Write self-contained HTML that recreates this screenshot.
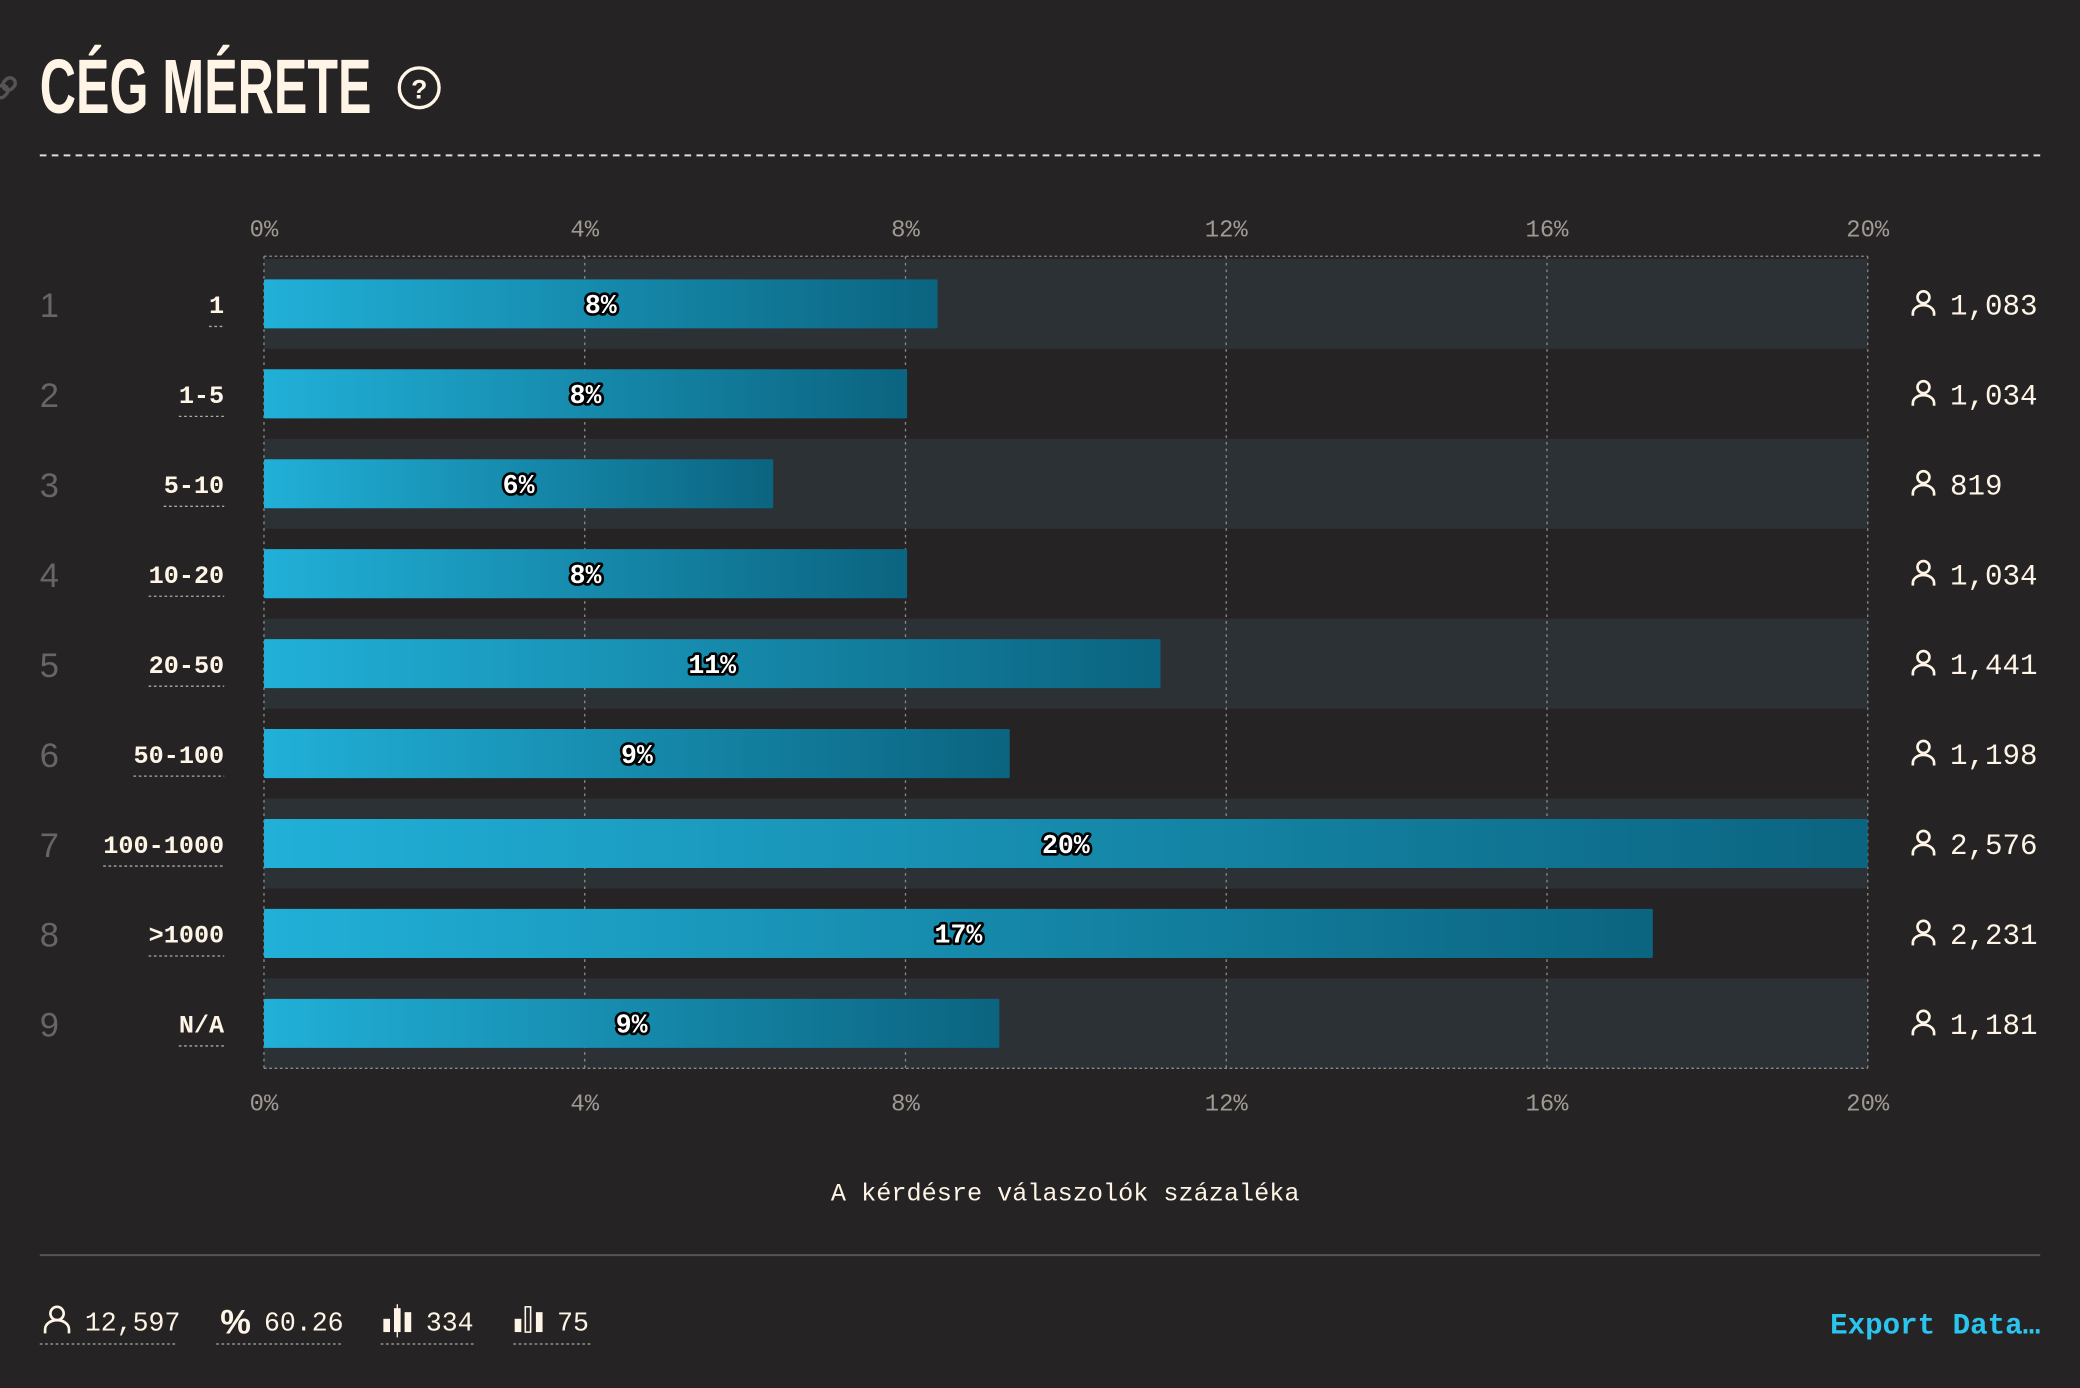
<!DOCTYPE html>
<html><head><meta charset="utf-8">
<style>
html,body{margin:0;padding:0;background:#262324;}
body{width:2080px;height:1388px;overflow:hidden;}
svg{display:block;}
.mono{font-family:"Liberation Mono","DejaVu Sans Mono",monospace;}
</style></head>
<body>
<svg id="chart" width="2080" height="1388" viewBox="0 0 1568 1046" xmlns="http://www.w3.org/2000/svg">
<defs>
<linearGradient id="bg" x1="0" x2="1" y1="0" y2="0">
<stop offset="0" stop-color="#21b0d8"/><stop offset="1" stop-color="#0b6480"/>
</linearGradient>
</defs>
<rect width="1568" height="1046" fill="#262324"/>
<g transform="translate(4,66) rotate(-45)" fill="none" stroke="#555" stroke-width="2.5"><rect x="-9" y="-4" width="10" height="8" rx="4"/><rect x="-1" y="-4" width="10" height="8" rx="4"/></g>
<text x="30" y="85" fill="#fff5e6" font-family="'Liberation Sans Narrow','Liberation Sans',sans-serif" font-weight="bold" font-size="58" textLength="250" lengthAdjust="spacingAndGlyphs">CÉG MÉRETE</text>
<g><circle cx="316" cy="66" r="15" fill="none" stroke="#fff5e6" stroke-width="2.5"/><text x="316" y="74" text-anchor="middle" fill="#fff5e6" font-family="Liberation Sans" font-weight="bold" font-size="20">?</text></g>
<line x1="30" x2="1538" y1="117" y2="117" stroke="#ddd" stroke-width="1.5" stroke-dasharray="5,4"/>
<g id="plot"></g>
<text class="mono" x="803" y="905" text-anchor="middle" fill="#fff5e6" font-size="19">A kérdésre válaszolók százaléka</text>
<line x1="30" x2="1538" y1="946" y2="946" stroke="#555" stroke-width="1.5"/>
<g class="mono" fill="#fff5e6" font-size="20">
 <g><circle cx="43" cy="990" r="5" fill="none" stroke="#fff5e6" stroke-width="2"/><path d="M34 1005 v-3 a9 7 0 0 1 18 0 v3" fill="none" stroke="#fff5e6" stroke-width="2"/><text x="64" y="1003">12,597</text><line x1="30" x2="134" y1="1013" y2="1013" stroke="#aaa" stroke-dasharray="2,2"/></g>
 <g><text x="166" y="1005" font-size="26" font-family="Liberation Sans" font-weight="bold">%</text><text x="199" y="1003">60.26</text><line x1="163" x2="257" y1="1013" y2="1013" stroke="#aaa" stroke-dasharray="2,2"/></g>
 <g><rect x="289" y="994" width="5" height="10"/><rect x="297" y="986" width="5" height="18"/><line x1="299.5" x2="299.5" y1="983" y2="1008" stroke="#fff5e6"/><rect x="305" y="989" width="5" height="15"/><text x="321" y="1003">334</text><line x1="287" x2="357" y1="1013" y2="1013" stroke="#aaa" stroke-dasharray="2,2"/></g>
 <g><rect x="388" y="994" width="5" height="10"/><rect x="396" y="985" width="4" height="19" fill="none" stroke="#fff5e6" stroke-width="1.2"/><rect x="404" y="989" width="5" height="15"/><text x="420" y="1003">75</text><line x1="387" x2="445" y1="1013" y2="1013" stroke="#aaa" stroke-dasharray="2,2"/></g>
</g>
<text class="mono" x="1538" y="1005" text-anchor="end" fill="#2bc4ee" font-weight="bold" font-size="22">Export Data…</text>
</svg>
<script>
const categories = ["1","1-5","5-10","10-20","20-50","50-100","100-1000",">1000","N/A"];
const values = [8.40, 8.02, 6.35, 8.02, 11.18, 9.30, 20.0, 17.32, 9.17];
const labels = ["8%","8%","6%","8%","11%","9%","20%","17%","9%"];
const counts = ["1,083","1,034","819","1,034","1,441","1,198","2,576","2,231","1,181"];
const ticks = [0,4,8,12,16,20];
const tickLabels = ["0%","4%","8%","12%","16%","20%"];

const NS="http://www.w3.org/2000/svg";
const g=document.getElementById('plot');
const X0=199,X1=1408,XMAX=20,TOP=195,STEP=67.8;
const x=v=>X0+(v/XMAX)*(X1-X0);
const y=i=>TOP+i*STEP;
function mk(t,a,p){const e=document.createElementNS(NS,t);for(const k in a)e.setAttribute(k,a[k]);(p||g).appendChild(e);return e;}
const bottom=y(categories.length);
categories.forEach((c,i)=>{
  if(i%2===0){const b=mk('rect',{x:X0,y:y(i),width:X1-X0,height:STEP,fill:'#2b3135'});
  
  }
});
ticks.forEach((t,j)=>{
  const l=mk('line',{x1:x(t),x2:x(t),y1:TOP-2,y2:bottom+2,stroke:'#8a8a8a','stroke-dasharray':'2,3'});
  
  
  [172,831].forEach((ty,k)=>{
    const tx=mk('text',{x:x(t),y:ty+6,'text-anchor':'middle',fill:'#a09a93','font-size':18,class:'mono'});
    tx.textContent=tickLabels[j];
    
    
  });
});
[TOP-2,bottom].forEach(yy=>{const l=mk('line',{x1:X0,x2:X1,y1:yy,y2:yy,stroke:'#8a8a8a','stroke-dasharray':'2,2'});

});
categories.forEach((c,i)=>{
  const cy=y(i)+STEP/2;
  const n=mk('text',{x:30,y:cy+10,fill:'#666','font-size':26,'font-family':'Liberation Sans'});n.textContent=i+1;
  
  
  const lab=mk('text',{x:169,y:cy+7,'text-anchor':'end',fill:'#fff5e6','font-size':19,'font-weight':'bold',class:'mono'});lab.textContent=c;
  
  
  const w=c.length*11.4;
  const ul=mk('line',{x1:169-w,x2:169,y1:cy+17,y2:cy+17,stroke:'#aaa','stroke-dasharray':'2,2'});
  
  
  const bar=mk('rect',{x:X0,y:cy-18.5,width:x(values[i])-X0,height:37,fill:'url(#bg)',rx:1});
  
  
  const vl=mk('text',{x:(X0+x(values[i]))/2,y:cy+7,'text-anchor':'middle',fill:'#fff','font-size':20,'font-weight':'bold',class:'mono',stroke:'#000','stroke-width':4,'paint-order':'stroke','stroke-linejoin':'round'});vl.textContent=labels[i];
  
  
  const ic=mk('g',{transform:`translate(1450,${cy})`});
  
  
  mk('circle',{cx:0,cy:-5,r:4.5,fill:'none',stroke:'#fff5e6','stroke-width':2},ic);
  mk('path',{d:'M-8 9 v-2 a8 6 0 0 1 16 0 v2',fill:'none',stroke:'#fff5e6','stroke-width':2},ic);
  const ct=mk('text',{x:1470,y:cy+8,fill:'#fff5e6','font-size':22,class:'mono'});ct.textContent=counts[i];
  
  
});
</script>
</body></html>
